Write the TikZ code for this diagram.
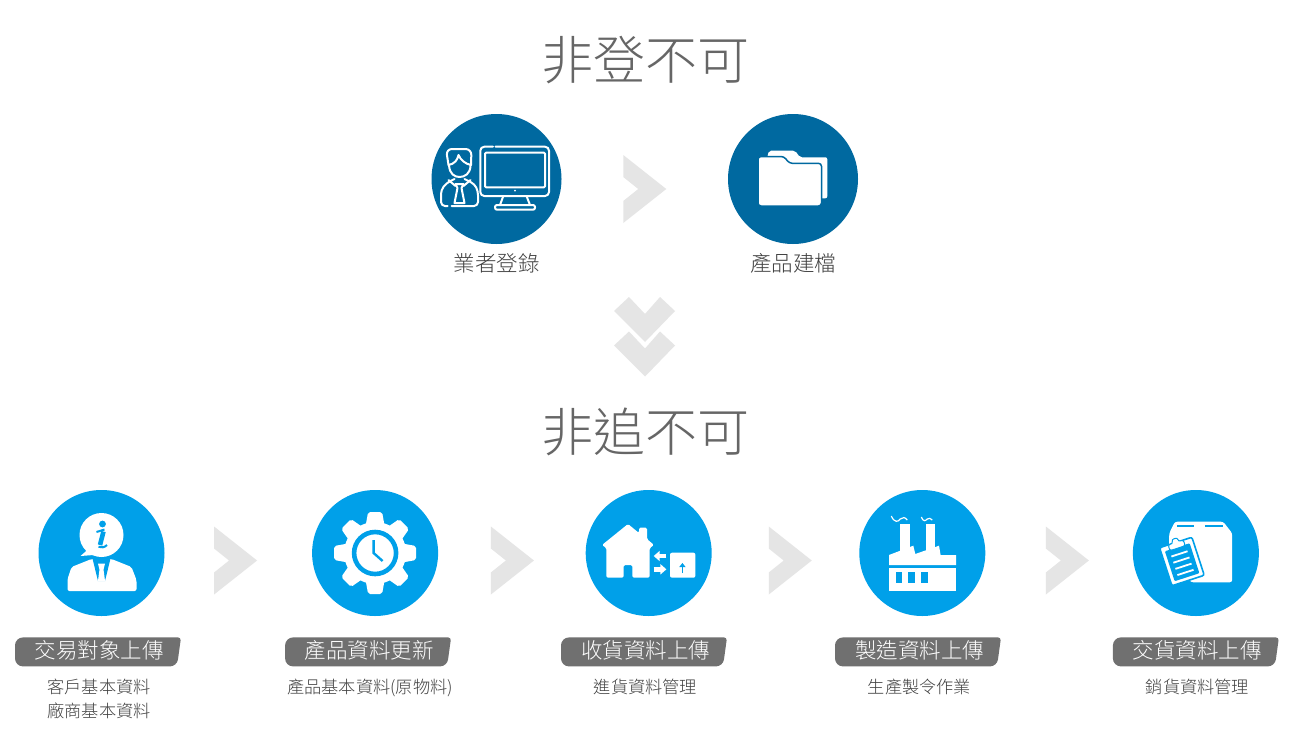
\documentclass[tikz,border=0pt]{standalone}
\usepackage{fontspec}
\newfontfamily\cjklight{Noto Sans CJK TC Light}
\definecolor{DeepBlue}{RGB}{0, 105, 160}
\definecolor{SkyBlue}{RGB}{0, 160, 233}
\definecolor{ChevGray}{RGB}{229, 229, 229}
\definecolor{TagGray}{RGB}{112, 112, 112}
\definecolor{TitleGray}{RGB}{102, 102, 102}
\definecolor{TextGray}{RGB}{64, 64, 64}
\usetikzlibrary{arrows.meta, positioning, calc}

\begin{document}
\begin{tikzpicture}[
        x=1pt, y=-1pt,
        title/.style={inner sep=0pt, text=TitleGray, font=\cjklight\fontsize{52}{52}\selectfont},
        bigdot/.style={circle, fill=DeepBlue, minimum size=130pt, inner sep=0pt},
        dot/.style={circle, fill=SkyBlue, minimum size=126pt, inner sep=0pt},
        caption/.style={inner sep=0pt, text=TextGray, font=\cjklight\fontsize{21.5}{24}\selectfont},
        tag/.style={minimum width=166pt, minimum height=29pt, inner sep=0pt, fill=white, text=white, text height=18pt, text depth=4pt, font=\cjklight\fontsize{21.5}{24}\selectfont,
          path picture={\fill[TagGray] [rounded corners=3pt] ($(path picture bounding box.north west)!0.5!(path picture bounding box.north east)$) -- (path picture bounding box.north east) [rounded corners=7pt] -- ([xshift=-4pt]path picture bounding box.south east) [rounded corners=8pt] -- (path picture bounding box.south west) -- (path picture bounding box.north west) -- cycle;}},
        sub/.style={inner sep=0pt, align=center, text=TextGray, font=\cjklight\fontsize{17.2}{24}\selectfont},
        chev/.pic={\fill[ChevGray] (-21.5,-34) -- (21.5,0) -- (-21.5,34) -- (-21.5,12) -- (-6.5,0) -- (-21.5,-12) -- cycle;},
        dchev/.pic={\fill[ChevGray] (-31,-3) -- (-16,-17) -- (0,0) -- (15,-17) -- (30,-3) -- (0,28) -- cycle;},
        stroke/.style={white, line width=2pt, line cap=round, line join=round}
      ]
        \useasboundingbox (0,0) rectangle (1295,755);
        \fill[white] (0,0) rectangle (1295,755);

        \node (t1) [title] at (645,60) {非登不可};
        \node (a1) [bigdot] at (496.5,179) {};
        \node (a2) [bigdot, right=166.1pt of a1] {};
        \node (l1) [caption, below=9pt of a1] {業者登錄};
        \node (l2) [caption, below=9pt of a2] {產品建檔};
        \pic at ($(a1)!0.5!(a2)+(0,10)$) {chev};
        \pic at (645,314) {dchev};
        \pic at (645,348.5) {dchev};
        \node (t2) [title] at (645,432) {非追不可};

        \node (c1) [dot] at (101.5,553) {};
        \node (c2) [dot, right=147.2pt of c1] {};
        \node (c3) [dot, right=147.2pt of c2] {};
        \node (c4) [dot, right=147.2pt of c3] {};
        \node (c5) [dot, right=147.2pt of c4] {};

        \foreach \from/\to/\dx in {c1/c2/-2.75, c2/c3/0.5, c3/c4/4.75, c4/c5/8.25}
          \pic at ($(\from)!0.5!(\to)+(\dx,7.5)$) {chev};

        \node (g1) [tag, below=21pt of c1, xshift=-3.5pt] {\hspace{2pt}交易對象上傳};
        \node (g2) [tag, below=21pt of c2, xshift=-7pt] {\hspace{2pt}產品資料更新};
        \node (g3) [tag, below=21pt of c3, xshift=-4.7pt] {\hspace{3pt}收貨資料上傳};
        \node (g4) [tag, below=21pt of c4, xshift=-4.3pt] {\hspace{3pt}製造資料上傳};
        \node (g5) [tag, below=21pt of c5] {\hspace{3pt}交貨資料上傳};

        \node (s1) [sub, below=12pt of g1, xshift=1pt] {客戶基本資料\\廠商基本資料};
        \node (s2) [sub, below=12pt of g2, xshift=2pt] {產品基本資料(原物料)};
        \node (s3) [sub, below=12pt of g3, xshift=1.5pt] {進貨資料管理};
        \node (s4) [sub, below=12pt of g4, xshift=1.5pt] {生產製令作業};
        \node (s5) [sub, below=12pt of g5, xshift=1.5pt] {銷貨資料管理};

        \begin{scope}[shift={(a1.center)}]
          \draw[stroke, rounded corners=4pt] (-1,-32.3) -- (52.5,-32.3) -- (52.5,17) -- (-16.2,17) -- (-16.2,-32.3) -- (-3.5,-32.3);
          \draw[stroke, rounded corners=1pt] (-11.5,-26.3) rectangle (48.5,8.3);
          \fill[white] (18.5,11.7) circle (1pt);
          \draw[stroke] (6.8,17) -- (3.5,26) (30,17) -- (33.5,26);
          \draw[stroke, rounded corners=2pt] (-1.5,26) rectangle (38.5,30.7);
          \draw[stroke, rounded corners=6pt] (-48,-14) -- (-50.5,-30) -- (-25,-30) -- (-25.5,-14);
          \draw[stroke] (-48,-14) .. controls (-42,-15) and (-39,-19) .. (-38,-24) .. controls (-36,-19) and (-31,-15) .. (-25.5,-14);
          \draw[stroke] (-47.5,-14) .. controls (-47,-5) and (-42,-2) .. (-37,-2) .. controls (-32,-2) and (-26,-5) .. (-26,-14);
          \draw[stroke, rounded corners=4pt] (-49,27) -- (-55.5,27) -- (-55.5,11) -- (-50,4) -- (-42,0);
          \draw[stroke, rounded corners=4pt] (-32,0) -- (-22,5) -- (-18.5,12) -- (-18.5,27) -- (-45,27);
          \draw[stroke] (-41,5) -- (-33,5) -- (-35,9) -- (-32,24) -- (-42,24) -- (-39,9) -- cycle;
          \draw[stroke] (-48,1) -- (-41,7) (-26,1) -- (-33,7);
        \end{scope}

        \begin{scope}[shift={(a2.center)}]
          \fill[white, rounded corners=2pt] (-26.3,-20) -- (-24,-28.3) -- (2,-28.3) -- (7,-21.7) -- (34.3,-21.7) -- (34.3,19.3) -- (20,19.3) -- (-26.3,-10) -- cycle;
          \filldraw[fill=white, draw=DeepBlue, line width=1.5pt, rounded corners=3pt] (-35,-22.5) -- (-9,-22.5) -- (-3.7,-15.7) -- (28.5,-15.7) -- (28.5,27) -- (-35,27) -- cycle;
        \end{scope}

        \begin{scope}[shift={(c1.center)}]
          \fill[white] (0,-18) circle (22pt);
          \fill[white] (-13,-4) -- (-21,3) -- (-8,2) -- cycle;
          \fill[SkyBlue] (1,-29) circle (3.4pt);
          \draw[SkyBlue, line width=4.6pt] (2,-21.5) -- (-1.5,-8);
          \draw[SkyBlue, line width=2pt] (-5,-21) -- (3,-23.5);
          \draw[SkyBlue, line width=2pt] (-3,-6.2) .. controls (0,-5) and (3,-5.5) .. (5.5,-8);
          \fill[white, rounded corners=2pt] (-34,38) -- (-34,26) -- (-30,14) -- (-10,6) -- (10,6) -- (30,14) -- (35,27) -- (35,38) -- cycle;
          \fill[SkyBlue] (-9,5.5) -- (9,5.5) -- (3.5,28) -- (-3.5,28) -- cycle;
          \fill[white] (-3.5,10.5) -- (3.5,10.5) -- (2,16.5) -- (3.6,28.5) -- (-3.6,28.5) -- (-2,16.5) -- cycle;
        \end{scope}

        \begin{scope}[shift={(c2.center)}]
          \fill[white] (0,0) circle (31pt);
          \foreach \ang in {0,45,...,315}
            \fill[white, rotate=\ang, rounded corners=2pt] (-9.5,-27) -- (-7,-41) -- (7,-41) -- (9.5,-27) -- cycle;
          \filldraw[fill=white, draw=SkyBlue, line width=4.6pt] (0,0) circle (21pt);
          \draw[SkyBlue, line width=2.4pt] (-1.5,-13) -- (-1.5,0) -- (7.5,8);
        \end{scope}

        \begin{scope}[shift={(c3.center)}]
          \fill[white, rounded corners=1.5pt] (-46.7,-8) -- (-20.7,-29) -- (-9.7,-20) -- (-9.7,-25.3) -- (-1.7,-25.3) -- (-1.7,-14) -- (5.3,-8) -- (1,-5) -- (1,24.7) -- (-16.3,24.7) -- (-16.3,12) -- (-25,12) -- (-25,24.7) -- (-42.3,24.7) -- (-42.3,-5) -- cycle;
          \fill[white, rounded corners=2pt] (21.3,-0.3) rectangle (46.7,24.7);
          \draw[SkyBlue, line width=1.8pt, -{Triangle[length=4pt,width=6pt]}] (33.7,20) -- (33.7,10);
          \draw[white, line width=4.5pt, -{Triangle[length=6pt,width=10pt]}] (17.7,3) -- (5,3);
          \draw[white, line width=4.5pt, -{Triangle[length=6pt,width=10pt]}] (5,16.3) -- (17.7,16.3);
        \end{scope}

        \begin{scope}[shift={(c4.center)}]
          \fill[white] (-22,-29) rectangle (-12.3,0);
          \fill[white] (3.3,-29) rectangle (13,0);
          \fill[white] (-33.3,2) -- (-9,-7.3) -- (-7,1) -- (16.7,-7.3) -- (18.3,2) -- (33.7,2) -- (33.7,12) -- (-33.3,12) -- cycle;
          \fill[white] (-33.3,15.3) rectangle (33.7,37.7);
          \foreach \wx in {-26.7,-14,-1}
            \fill[SkyBlue] (\wx,18.7) rectangle ++(6.5,11);
          \draw[white, line width=1.2pt] (-31,-37) .. controls (-28,-30) and (-24,-31) .. (-22,-34) .. controls (-20,-36) and (-17,-36) .. (-15,-33);
          \draw[white, line width=1.2pt] (-1,-36) .. controls (1,-31) and (3,-32) .. (5,-34) .. controls (6,-35) and (9,-35) .. (10,-33);
        \end{scope}

        \begin{scope}[shift={(c5.center)}]
          \fill[white, rounded corners=2.5pt] (-26.7,-19.7) -- (-21,-31.3) -- (27.3,-31.3) -- (36.3,-19.7) -- (36.3,29.3) -- (-5,29.3) -- (-26.7,0) -- cycle;
          \draw[SkyBlue, line width=2.6pt] (-18.7,-27) -- (-2,-27) (9,-27) -- (26.7,-27);
          \begin{scope}[shift={(-14,8.5)}, rotate=18]
            \filldraw[fill=white, draw=SkyBlue, line width=1.6pt, rounded corners=2pt] (-17,-20) rectangle (17,20);
            \fill[SkyBlue, rounded corners=1pt] (-13,-15) rectangle (13,16.5);
            \foreach \ly in {-8,-1.5,5,11.5}
              \draw[white, line width=1.8pt] (-8.5,\ly) -- (8.5,\ly);
            \filldraw[fill=white, draw=SkyBlue, line width=1pt, rounded corners=2pt] (-8,-16) -- (-8,-20) -- (-3,-20) -- (-3,-24) -- (3,-24) -- (3,-20) -- (8,-20) -- (8,-14) -- (-8,-14) -- cycle;
          \end{scope}
        \end{scope}
      \end{tikzpicture}
\end{document}
